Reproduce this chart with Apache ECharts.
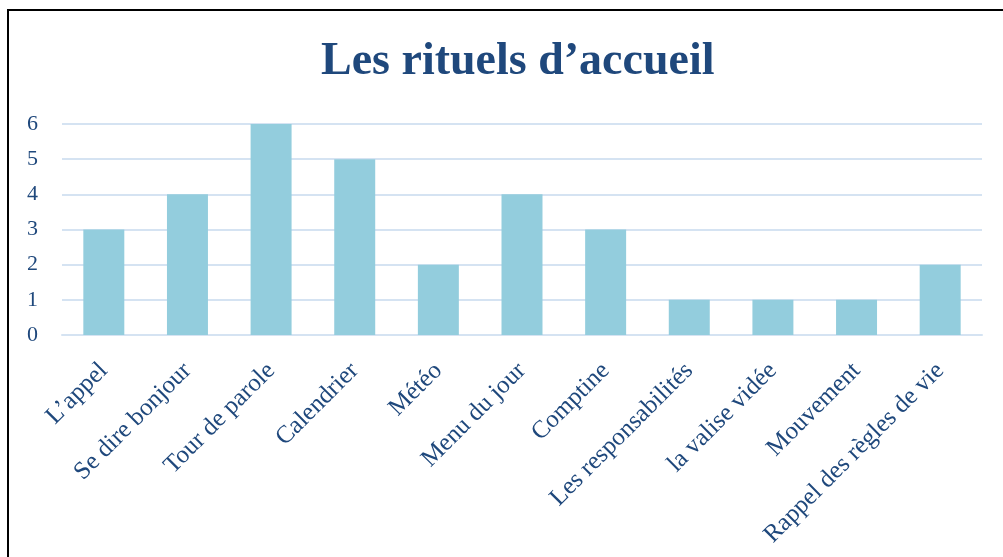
<!DOCTYPE html>
<html>
<head>
<meta charset="utf-8">
<script src="https://cdn.jsdelivr.net/npm/echarts@6/dist/echarts.min.js"></script>
<style>
  html, body { margin: 0; padding: 0; background: #fff; }
  #frame { position: absolute; left: 7px; top: 9px; width: 1010px; height: 560px;
           border-left: 2px solid #000; border-top: 2px solid #000; }
  #chart { width: 1003px; height: 557px; }
</style>
</head>
<body>
<div id="frame"></div>
<div id="chart"></div>
<script>
const categories = ['L\u2019appel', 'Se dire bonjour', 'Tour de parole', 'Calendrier', 'M\u00e9t\u00e9o',
  'Menu du jour', 'Comptine', 'Les responsabilit\u00e9s', 'la valise vid\u00e9e', 'Mouvement',
  'Rappel des r\u00e8gles de vie']
const values = [3, 4, 6, 5, 2, 4, 3, 1, 1, 1, 2]
const titleText = 'Les rituels d\u2019accueil'

const textBlue = '#1F487C'
const serif = '"Liberation Serif", "DejaVu Serif", serif'

var myChart = echarts.init(document.getElementById('chart'))
const option = {
  animation: false,
  title: {
    text: titleText,
    left: 316,
    top: 34,
    textStyle: {
      fontFamily: serif,
      fontWeight: 'bold',
      fontSize: 46,
      color: textBlue,
    },
  },
  grid: {
    left: 62,
    right: 21,
    top: 124,
    bottom: 222,
  },
  xAxis: {
    type: 'category',
    data: categories,
    axisLine: { show: true, lineStyle: { color: '#D5E3F2', width: 2 } },
    axisTick: { show: false },
    axisLabel: {
      rotate: 45,
      interval: 0,
      margin: 32,
      fontFamily: serif,
      fontSize: 25,
      color: textBlue,
    },
  },
  yAxis: {
    type: 'value',
    min: 0,
    max: 6,
    interval: 1,
    axisLine: { show: false },
    axisTick: { show: false },
    axisLabel: {
      margin: 24,
      fontFamily: serif,
      fontSize: 22,
      color: textBlue,
    },
    splitLine: { lineStyle: { color: '#D5E3F2', width: 2 } },
  },
  series: [
    {
      type: 'bar',
      data: values,
      barWidth: '49%',
      itemStyle: { color: '#93CDDD' },
    },
  ],
}

myChart.setOption(option)
</script>
</body>
</html>
